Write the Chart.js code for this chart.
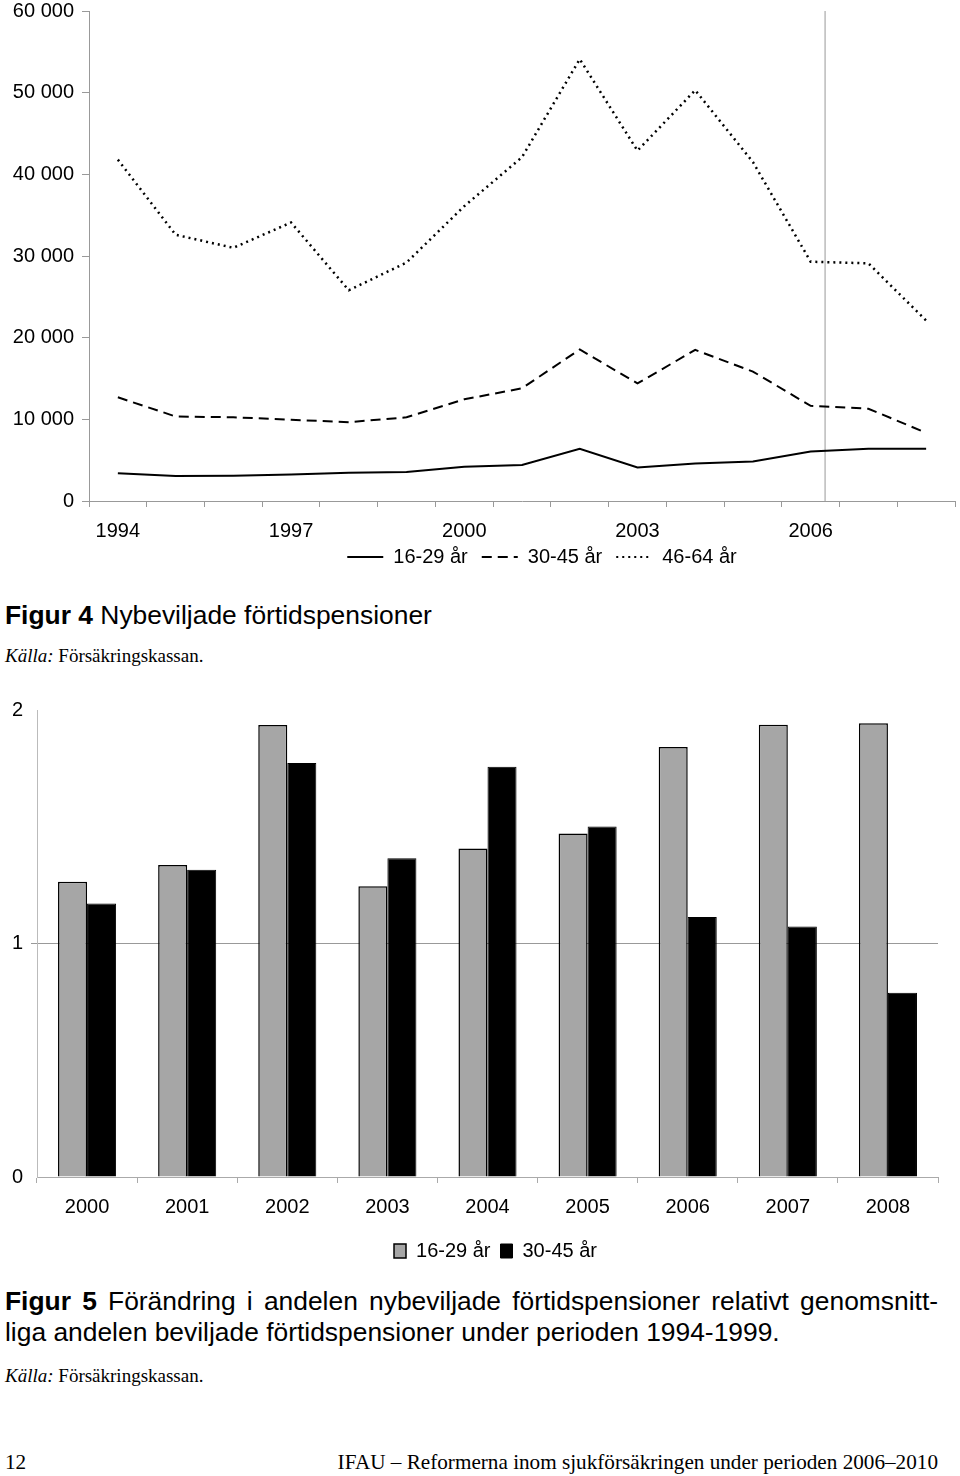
<!DOCTYPE html>
<html lang="sv">
<head>
<meta charset="UTF-8">
<title>Figur 4 och 5</title>
<script src="https://cdn.jsdelivr.net/npm/chart.js"></script>
<style>
    body { margin: 0; background: #fff; width: 960px; height: 1476px; position: relative; overflow: hidden; }
    .box { position: absolute; left: 0; width: 960px; }
    .cap { position: absolute; left: 5px; font-family: "Liberation Sans", Arial, sans-serif; font-size: 26.4px; color: #000; white-space: nowrap; }
    .src { position: absolute; left: 5px; font-family: "Liberation Serif", "Times New Roman", serif; font-size: 19px; line-height: 22px; color: #000; }
    .foot { position: absolute; top: 1450px; font-family: "Liberation Serif", "Times New Roman", serif; font-size: 21.2px; line-height: 24px; }
</style>
</head>
<body>
<div class="box" style="top:-9px; height:602px;"><canvas id="lineChart"></canvas></div>
<div class="cap" style="top:600px; line-height:30px;"><b>Figur 4</b> Nybeviljade förtidspensioner</div>
<div class="src" style="top:645px;"><i>Källa:</i> Försäkringskassan.</div>

<div class="box" style="top:690px; height:585px;"><canvas id="barChart"></canvas></div>
<div class="cap" style="top:1286px; width:933px; line-height:31px; white-space:normal;">
    <div style="text-align:justify; text-align-last:justify; white-space:nowrap;"><b>Figur 5</b> Förändring i andelen nybeviljade förtidspensioner relativt genomsnitt-</div>
    <div>liga andelen beviljade förtidspensioner under perioden 1994-1999.</div>
</div>
<div class="src" style="top:1365px;"><i>Källa:</i> Försäkringskassan.</div>

<div class="foot" style="left:5px;">12</div>
<div class="foot" style="right:22px;">IFAU – Reformerna inom sjukförsäkringen under perioden 2006–2010</div>

<script>
// Figur 4: nybeviljade förtidspensioner per år
var years = ['1994', '1995', '1996', '1997', '1998', '1999', '2000', '2001', '2002', '2003', '2004', '2005', '2006', '2007', '2008'];
var age16to29 = [3400, 3050, 3100, 3250, 3450, 3550, 4200, 4400, 6400, 4100, 4600, 4850, 6050, 6400, 6400];
var age30to45 = [12700, 10350, 10250, 9950, 9650, 10250, 12450, 13800, 18550, 14400, 18500, 15850, 11650, 11300, 8350];
var age46to64 = [41800, 32600, 31000, 34100, 25800, 29200, 36100, 42100, 54100, 42900, 50300, 41500, 29300, 29100, 22100];
var reformYear = 2006.25;   // grå markeringslinje

// Figur 5: förändring relativt snittet 1994-1999
var barYears = ['2000', '2001', '2002', '2003', '2004', '2005', '2006', '2007', '2008'];
var share16to29 = [1.264, 1.336, 1.936, 1.245, 1.407, 1.471, 1.842, 1.937, 1.943];
var share30to45 = [1.171, 1.316, 1.773, 1.365, 1.757, 1.501, 1.113, 1.073, 0.789];

Chart.defaults.font.family = '"Liberation Sans", Arial, sans-serif';
Chart.defaults.font.size = 20;
Chart.defaults.color = '#000';
Chart.defaults.animation = false;

// flyttar legenden (dx/dy)
var legendShift = {
    id: 'legendShift',
    afterLayout: function(chart, args, opts) {
        var lg = chart.legend;
        if (!lg) return;
        var dx = opts.dx || 0, dy = opts.dy || 0;
        lg.left += dx; lg.right += dx;
        lg.top += dy; lg.bottom += dy;
    }
};

// vertikal linje vid reformen
var reformLine = {
    id: 'reformLine',
    beforeDatasetsDraw: function(chart) {
        var x = chart.scales.x;
        var area = chart.chartArea;
        var px = x.getPixelForValue(reformYear - Number(years[0]));
        var ctx = chart.ctx;
        ctx.save();
        ctx.strokeStyle = '#bbbbbb';
        ctx.lineWidth = 1.5;
        ctx.beginPath();
        ctx.moveTo(px, area.top);
        ctx.lineTo(px, area.bottom);
        ctx.stroke();
        ctx.restore();
    }
};

function spaced(v) {
    return String(v).replace(/\B(?=(\d{3})+(?!\d))/g, ' ');
}

new Chart(document.getElementById('lineChart'), {
    type: 'line',
    data: {
        labels: years,
        datasets: [{
            label: '16-29 år',
            data: age16to29,
            borderColor: '#000',
            borderWidth: 2,
            pointRadius: 0,
            tension: 0
        }, {
            label: '30-45 år',
            data: age30to45,
            borderColor: '#000',
            borderWidth: 2,
            borderDash: [10, 6],
            pointRadius: 0,
            tension: 0
        }, {
            label: '46-64 år',
            data: age46to64,
            borderColor: '#000',
            borderWidth: 2.5,
            borderDash: [2, 4],
            pointRadius: 0,
            tension: 0
        }]
    },
    options: {
        responsive: true,
        maintainAspectRatio: false,
        layout: { padding: { top: 0, right: 5, bottom: 4, left: 0 } },
        plugins: {
            legend: {
                position: 'bottom',
                fullSize: false,
                labels: {
                    usePointStyle: true,
                    pointStyle: 'line',
                    pointStyleWidth: 36,
                    padding: 14,
                    font: { size: 20 },
                    generateLabels: function(chart) {
                        var items = Chart.defaults.plugins.legend.labels.generateLabels(chart);
                        items.forEach(function(it) {
                            var ds = chart.data.datasets[it.datasetIndex];
                            it.lineDash = ds.borderDash || [];
                            it.lineWidth = 2;
                        });
                        return items;
                    }
                }
            },
            legendShift: { dx: 20, dy: -12 },
            tooltip: { enabled: false }
        },
        scales: {
            x: {
                offset: true,
                afterFit: function(scale) { scale.height = 44; },
                grid: { offset: true, drawOnChartArea: false, drawTicks: true, tickLength: 6, color: '#999' },
                border: { color: '#999', width: 1 },
                ticks: {
                    autoSkip: false,
                    maxRotation: 0,
                    padding: 12,
                    callback: function(value, index) {
                        return index % 3 === 0 ? years[index] : '';
                    }
                }
            },
            y: {
                min: 0,
                max: 60000,
                afterFit: function(scale) { scale.width = 89; },
                grid: { drawOnChartArea: false, drawTicks: true, tickLength: 7, color: '#999' },
                border: { color: '#999', width: 1 },
                ticks: {
                    stepSize: 10000,
                    padding: 8,
                    callback: function(value) { return spaced(value); }
                }
            }
        }
    },
    plugins: [legendShift, reformLine]
});

new Chart(document.getElementById('barChart'), {
    type: 'bar',
    data: {
        labels: barYears,
        datasets: [{
            label: '16-29 år',
            data: share16to29,
            backgroundColor: '#a6a6a6',
            borderColor: '#000',
            borderWidth: 1.5
        }, {
            label: '30-45 år',
            data: share30to45,
            backgroundColor: '#000',
            borderColor: '#000',
            borderWidth: 1
        }]
    },
    options: {
        responsive: true,
        maintainAspectRatio: false,
        layout: { padding: { top: 19, right: 22, bottom: 4, left: 0 } },
        datasets: { bar: { categoryPercentage: 0.58, barPercentage: 1 } },
        plugins: {
            legend: {
                position: 'bottom',
                fullSize: false,
                labels: {
                    boxWidth: 12,
                    boxHeight: 14,
                    padding: 10,
                    font: { size: 20 }
                }
            },
            legendShift: { dx: 8 },
            tooltip: { enabled: false }
        },
        scales: {
            x: {
                afterFit: function(scale) { scale.height = 54; },
                grid: { offset: true, drawOnChartArea: false, drawTicks: true, tickLength: 6, color: '#aaa' },
                border: { color: '#aaa', width: 1 },
                ticks: { maxRotation: 0, padding: 12 }
            },
            y: {
                min: 0,
                max: 2,
                afterFit: function(scale) { scale.width = 37; },
                grid: {
                    drawTicks: true,
                    tickLength: 6,
                    color: function(c) { return c.tick && c.tick.value === 1 ? '#999' : 'rgba(0,0,0,0)'; }
                },
                border: { color: '#bbb', width: 1 },
                ticks: { stepSize: 1, padding: 8 }
            }
        }
    },
    plugins: [legendShift]
});
</script>
</body>
</html>
